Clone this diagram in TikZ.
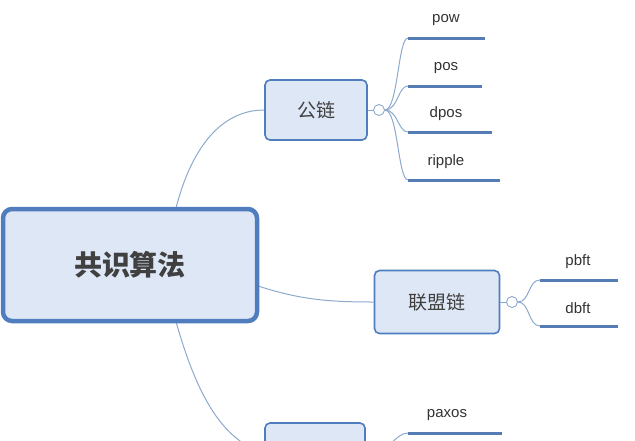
\documentclass[tikz,border=0pt]{standalone}
\usepackage{fontspec}
\setmainfont{Liberation Sans}
\newfontfamily\cjk{Noto Sans CJK SC}
\definecolor{bd}{RGB}{80,125,190}
\definecolor{fl}{RGB}{222,231,246}
\definecolor{cn}{RGB}{140,170,205}
\definecolor{lf}{RGB}{85,125,180}
\begin{document}
\begin{tikzpicture}[x=1pt,y=-1pt,
  box/.style={draw=bd, fill=fl, rounded corners=5pt, line width=1.6pt, font=\cjk\fontsize{19}{22}\selectfont, text=black!75},
  conn/.style={draw=cn, line width=1pt},
  leaf/.style={draw=lf, line width=3pt},
  lbl/.style={font=\fontsize{15}{17}\selectfont, text=black!80},
  tog/.style={circle, draw=cn, fill=white, line width=0.9pt, minimum size=11pt, inner sep=0pt}]
\useasboundingbox (0,0) rectangle (635,440);
\clip (0,0) rectangle (635,440);
\fill[white] (0,0) rectangle (635,440);
\coordinate (r1) at (175,212);
\coordinate (r2) at (255,285);
\coordinate (r3) at (175,318);
\node[box, minimum width=102pt, minimum height=60pt] (a) at (316,110) {公链};
\node[box, minimum width=125pt, minimum height=63pt] (b) at (437,302) {联盟链};
\node[box, minimum width=100pt, minimum height=60pt] (c) at (315,453) {};
\draw[conn] (r1) .. controls (190,150) and (220,110) .. (a.west);
\draw[conn] (r2) .. controls (300,300) and (330,302) .. (b.west);
\draw[conn] (r3) .. controls (195,390) and (220,440) .. (c.west);
\node[box, line width=4.5pt, rounded corners=9pt, minimum width=254pt, minimum height=112pt, font=\cjk\bfseries\fontsize{28}{32}\selectfont] (m) at (130,265) {共识算法};
\node[tog] (ta) at (379,110) {};
\draw[conn] (a.east) -- (ta);
\foreach \n/\y/\e/\t in {pow/38/485/pow, pos/86/482/pos, dpos/132/492/dpos, rip/180/500/ripple}{
  \coordinate (\n s) at (408,\y);
  \coordinate (\n e) at (\e,\y);
  \draw[conn] (ta.east) .. controls (398,110) and (398,\y) .. (\n s);
  \draw[leaf] (\n s) -- (\n e);
  \node[lbl] at (446,\y-18) {\t};
}
\node[tog] (tb) at (512,302) {};
\draw[conn] (b.east) -- (tb);
\foreach \n/\y/\t in {pb/280/pbft, db/326/dbft}{
  \coordinate (\n s) at (540,\y);
  \coordinate (\n e) at (618,\y);
  \draw[conn] (tb.east) .. controls (530,302) and (528,\y) .. (\n s);
  \draw[leaf] (\n s) -- (\n e);
  \node[lbl] at (578,\y-18) {\t};
}
\coordinate (ps) at (408,433);
\coordinate (pe) at (502,433);
\draw[conn] (c.east) .. controls (390,453) and (395,433) .. (ps);
\draw[leaf] (ps) -- (pe);
\node[lbl] at (447,415) {paxos};
\end{tikzpicture}
\end{document}
